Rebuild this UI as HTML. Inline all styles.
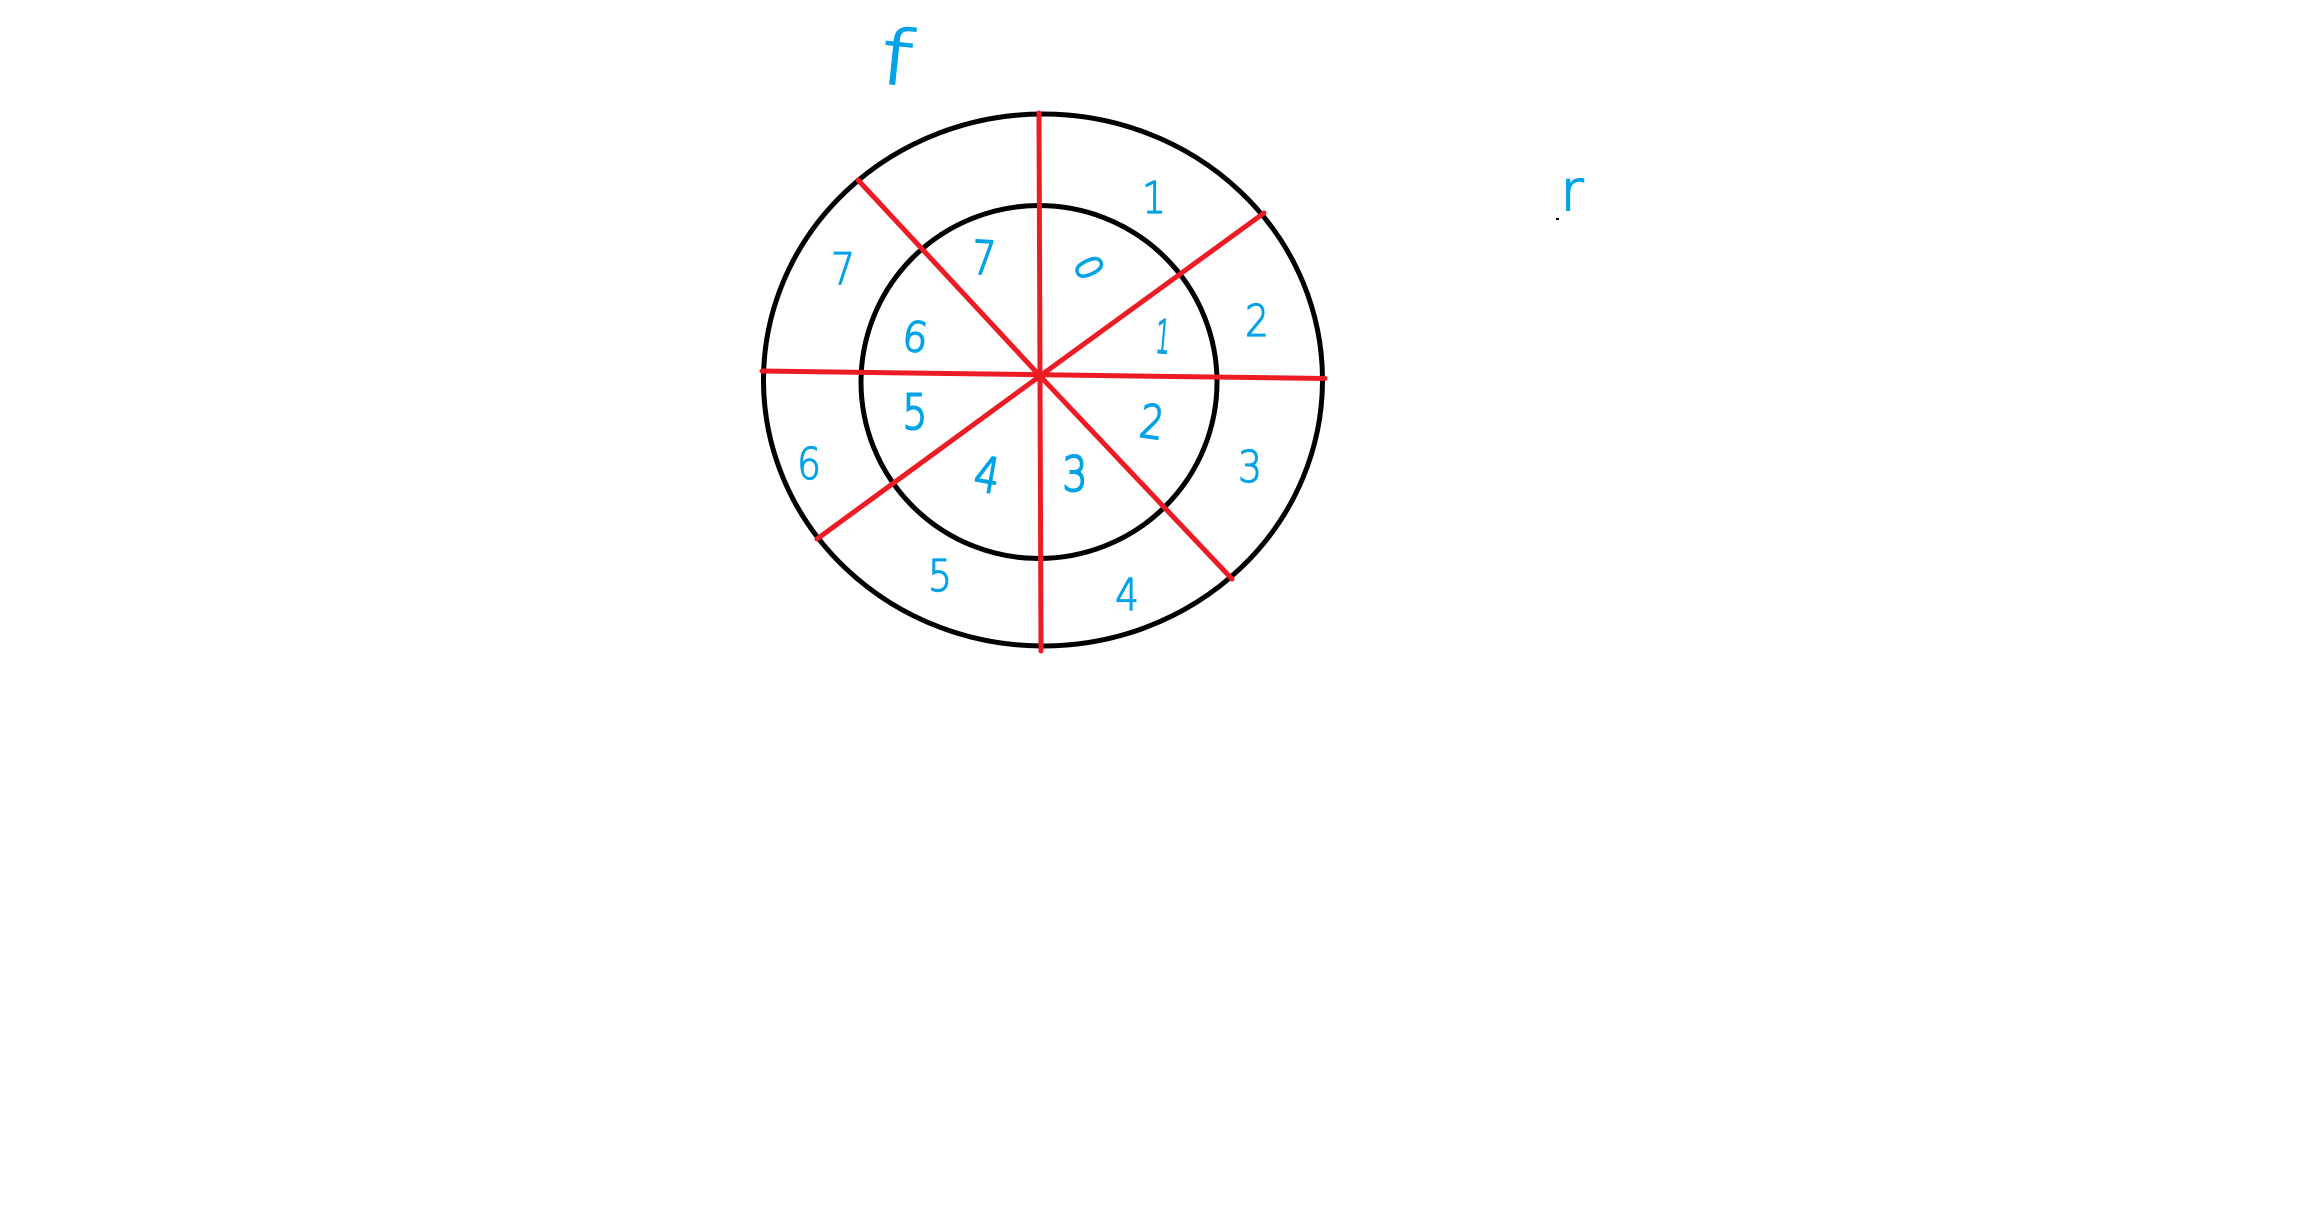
<!DOCTYPE html>
<html lang="en">
<head>
<meta charset="utf-8">
<title>Two-ring sector diagram</title>
<style>
html,body{margin:0;padding:0;background:#fff;width:2301px;height:1213px;overflow:hidden}
svg{display:block}
.n{font-family:"DejaVu Sans","Liberation Sans",sans-serif;font-weight:200;fill:#00a2e8;stroke:#00a2e8;text-anchor:middle;dominant-baseline:central}
.o{font-size:44px;stroke-width:1.3}
.h{font-size:46px;stroke-width:2}
.r{stroke:#ed1c24;stroke-width:5;stroke-linecap:round;fill:none}
.c{stroke:#000;stroke-width:5;fill:none}
</style>
</head>
<body>
<svg width="2301" height="1213" viewBox="0 0 2301 1213" xmlns="http://www.w3.org/2000/svg">
  <rect width="2301" height="1213" fill="#fff"/>
  <ellipse class="c" cx="1043" cy="380" rx="279.5" ry="266"/>
  <ellipse class="c" cx="1039" cy="382" rx="178" ry="176.5"/>

  <line class="r" x1="1039" y1="113" x2="1040" y2="376"/>
  <line class="r" x1="1040" y1="376" x2="1041" y2="651"/>
  <line class="r" x1="762" y1="371" x2="1325" y2="378.5"/>
  <line class="r" x1="858" y1="180" x2="1040" y2="376"/>
  <line class="r" x1="1040" y1="376" x2="1232" y2="579"/>
  <line class="r" x1="1264" y1="213" x2="1040" y2="376"/>
  <line class="r" x1="1040" y1="376" x2="817" y2="539"/>

  <text class="n o" transform="translate(1154 198) scale(.85 1)">1</text>
  <text class="n o" transform="translate(1257 321) scale(.85 1)">2</text>
  <text class="n o" transform="translate(1250 467) scale(.85 1)">3</text>
  <text class="n o" transform="translate(1127 595) scale(.85 1)">4</text>
  <text class="n o" transform="translate(940 576) scale(.85 1)">5</text>
  <text class="n o" transform="translate(809 464) scale(.85 1)">6</text>
  <text class="n o" transform="translate(843 269) scale(.85 1)">7</text>

  <text class="n h" transform="translate(1088 268) rotate(65) scale(.95 1)" style="font-size:36px">0</text>
  <text class="n h" transform="translate(1163 337) rotate(5) scale(.5 1)">1</text>
  <text class="n h" transform="translate(1152 422) rotate(8) scale(.8 1)">2</text>
  <text class="n h" transform="translate(1075 475) scale(.85 1.05)">3</text>
  <text class="n h" transform="translate(987 476) rotate(10) scale(.85 1.05)">4</text>
  <text class="n h" transform="translate(915 413) scale(.85 1.05)">5</text>
  <text class="n h" transform="translate(915 338) rotate(8) scale(.85 .9)">6</text>
  <text class="n h" transform="translate(984 258) rotate(3) scale(.8 1)">7</text>

  <text class="n" transform="translate(897 58) rotate(6) scale(1.2 1)" style="font-size:76px;stroke-width:1.6">f</text>
  <text class="n" transform="translate(1572 192)" style="font-size:56px;stroke-width:1.6">r</text>
  <rect x="1556" y="218" width="3" height="2" fill="#000"/>
</svg>
</body>
</html>
